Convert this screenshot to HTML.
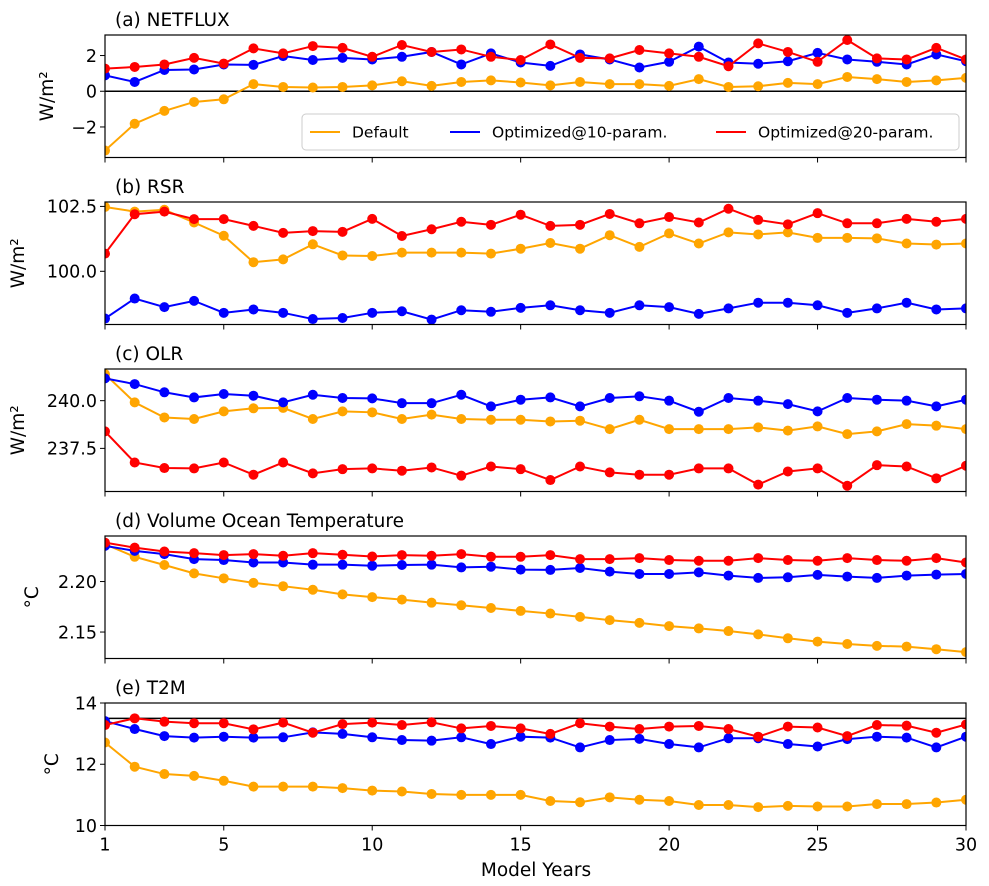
<!DOCTYPE html>
<html><head><meta charset="utf-8">
<style>
html,body{margin:0;padding:0;background:#fff;}
svg{display:block;font-family:"DejaVu Sans","Liberation Sans",sans-serif;}
</style></head>
<body>
<svg id="chart" width="989" height="886" viewBox="0 0 989 886" xmlns="http://www.w3.org/2000/svg"></svg>
<script>
const years = Array.from({length:30},(_, i)=>i+1);
const xTicks = [1,5,10,15,20,25,30];
const seriesNames = ["Default","Optimized@10-param.","Optimized@20-param."];

const netDefault = [-3.32,-1.82,-1.10,-0.60,-0.45,0.40,0.24,0.21,0.24,0.33,0.56,0.30,0.52,0.61,0.49,0.33,0.52,0.40,0.40,0.30,0.68,0.24,0.28,0.47,0.40,0.80,0.68,0.52,0.61,0.75];
const net10 = [0.89,0.52,1.19,1.22,1.50,1.48,1.97,1.75,1.87,1.78,1.93,2.20,1.50,2.12,1.61,1.42,2.06,1.78,1.33,1.65,2.50,1.61,1.54,1.68,2.15,1.78,1.65,1.50,2.06,1.68];
const net20 = [1.27,1.36,1.50,1.87,1.55,2.40,2.12,2.53,2.43,1.93,2.59,2.20,2.34,1.93,1.75,2.62,1.87,1.84,2.31,2.12,1.93,1.40,2.68,2.20,1.65,2.87,1.84,1.78,2.43,1.78];

const rsrDefault = [102.48,102.30,102.37,101.88,101.37,100.35,100.46,101.04,100.61,100.59,100.72,100.72,100.72,100.68,100.87,101.09,100.87,101.39,100.94,101.46,101.07,101.50,101.42,101.50,101.29,101.29,101.27,101.07,101.03,101.07];
const rsr10 = [98.18,98.95,98.62,98.86,98.40,98.53,98.40,98.16,98.20,98.40,98.46,98.14,98.50,98.44,98.59,98.69,98.50,98.40,98.69,98.62,98.36,98.57,98.79,98.79,98.69,98.40,98.57,98.79,98.53,98.57];
const rsr20 = [100.68,102.20,102.30,102.01,102.01,101.75,101.48,101.55,101.52,102.02,101.36,101.62,101.91,101.79,102.18,101.75,101.79,102.21,101.85,102.09,101.88,102.41,101.98,101.81,102.24,101.85,101.85,102.02,101.91,102.02];

const olrDefault = [241.39,239.91,239.12,239.04,239.44,239.60,239.62,239.04,239.44,239.39,239.04,239.27,239.04,239.00,239.00,238.91,238.95,238.51,239.00,238.51,238.51,238.51,238.60,238.43,238.65,238.25,238.39,238.77,238.69,238.51];
const olr10 = [241.17,240.87,240.44,240.17,240.35,240.26,239.91,240.31,240.14,240.12,239.87,239.87,240.31,239.70,240.05,240.17,239.70,240.14,240.23,240.00,239.42,240.14,240.00,239.82,239.44,240.14,240.05,240.00,239.70,240.05];
const olr20 = [238.39,236.76,236.47,236.45,236.76,236.12,236.76,236.19,236.41,236.45,236.33,236.50,236.07,236.55,236.41,235.84,236.55,236.24,236.12,236.12,236.45,236.45,235.60,236.29,236.45,235.54,236.62,236.55,235.93,236.59];

const votDefault = [2.2370,2.2245,2.2164,2.2081,2.2032,2.1987,2.1954,2.1919,2.1873,2.1846,2.1821,2.1791,2.1765,2.1738,2.1709,2.1683,2.1650,2.1618,2.1591,2.1559,2.1536,2.1510,2.1477,2.1438,2.1405,2.1382,2.1363,2.1356,2.1330,2.1301];
const vot10 = [2.2353,2.2304,2.2272,2.2222,2.2213,2.2189,2.2189,2.2167,2.2167,2.2157,2.2164,2.2167,2.2140,2.2147,2.2118,2.2115,2.2134,2.2098,2.2075,2.2075,2.2091,2.2059,2.2036,2.2042,2.2066,2.2049,2.2036,2.2059,2.2069,2.2075];
const vot20 = [2.2385,2.2336,2.2297,2.2281,2.2262,2.2272,2.2255,2.2281,2.2265,2.2248,2.2262,2.2255,2.2272,2.2245,2.2245,2.2262,2.2222,2.2222,2.2232,2.2213,2.2206,2.2206,2.2232,2.2213,2.2206,2.2232,2.2213,2.2206,2.2232,2.2189];

const t2mDefault = [12.71,11.92,11.68,11.62,11.46,11.27,11.27,11.27,11.22,11.14,11.11,11.03,11.00,11.00,11.00,10.80,10.76,10.92,10.84,10.80,10.67,10.67,10.60,10.64,10.62,10.62,10.70,10.70,10.75,10.84];
const t2m10 = [13.41,13.15,12.92,12.87,12.90,12.87,12.88,13.04,12.99,12.88,12.79,12.77,12.88,12.66,12.90,12.87,12.55,12.79,12.83,12.66,12.55,12.85,12.85,12.66,12.58,12.82,12.90,12.87,12.55,12.90];
const t2m20 = [13.28,13.50,13.39,13.34,13.34,13.14,13.36,13.03,13.31,13.36,13.28,13.37,13.17,13.25,13.17,12.99,13.34,13.23,13.15,13.23,13.25,13.15,12.90,13.23,13.20,12.92,13.28,13.26,13.03,13.30];

const ticksA = [-2,0,2], ticksB = [100.0,102.5], ticksC = [237.5,240.0], ticksD = [2.15,2.20], ticksE = [10,12,14];

const NS = "http://www.w3.org/2000/svg";
const svg = document.getElementById("chart");
const colors = ["#FFA500","#0000FF","#FF0000"];
const X0 = 105, X1 = 966;
function xScale(v){ return X0 + (v-1)*(X1-X0)/29; }
function mk(tag, attrs, parent){
  const e = document.createElementNS(NS, tag);
  for (const k in attrs) e.setAttribute(k, attrs[k]);
  (parent||svg).appendChild(e);
  return e;
}

const panels = [
  {key:"netflux", title:"(a) NETFLUX", ylab:"W/m²", ylx:48, dom:[-3.71,3.15], ticks:ticksA, fmt:v=>v<0?"\u2212"+Math.abs(v):String(v), data:[netDefault,net10,net20], hline:0},
  {key:"rsr", title:"(b) RSR", ylab:"W/m²", ylx:19, dom:[97.95,102.67], ticks:ticksB, fmt:v=>v.toFixed(1), data:[rsrDefault,rsr10,rsr20]},
  {key:"olr", title:"(c) OLR", ylab:"W/m²", ylx:19, dom:[235.24,241.66], ticks:ticksC, fmt:v=>v.toFixed(1), data:[olrDefault,olr10,olr20]},
  {key:"vot", title:"(d) Volume Ocean Temperature", ylab:"°C", ylx:33, dom:[2.1238,2.2451], ticks:ticksD, fmt:v=>v.toFixed(2), data:[votDefault,vot10,vot20]},
  {key:"t2m", title:"(e) T2M", ylab:"°C", ylx:53, dom:[10,14], ticks:ticksE, fmt:v=>String(v), data:[t2mDefault,t2m10,t2m20], hline:13.5}
];

panels.forEach((p, i) => {
  const top = 35 + i*167, bot = top + 122.5;
  const yScale = v => bot - (v - p.dom[0])/(p.dom[1]-p.dom[0])*(bot-top);
  const g = mk("g", {});
  
  

  const t = mk("text", {x:115, y:top-9, "font-size":18.5, fill:"#000"}, g);
  t.textContent = p.title;
  
  

  const yl = mk("text", {x:p.ylx, y:(top+bot)/2, "font-size":18.5, "text-anchor":"middle", transform:`rotate(-90 ${p.ylx} ${(top+bot)/2})`, "dominant-baseline":"middle"}, g);
  yl.textContent = p.ylab;
  
  

  p.ticks.forEach(tv => {
    const y = yScale(tv);
    const tk = mk("line", {x1:X0-5, x2:X0, y1:y, y2:y, stroke:"#000", "stroke-width":1}, g);
    
    
    const tl = mk("text", {x:X0-8, y:y+6.3, "font-size":17.5, "text-anchor":"end"}, g);
    tl.textContent = p.fmt(tv);
    
    
  });
  xTicks.forEach(xv => {
    const x = xScale(xv);
    const tk = mk("line", {x1:x, x2:x, y1:bot, y2:bot+5, stroke:"#000", "stroke-width":1}, g);
    
    
    if (i === 4) {
      const tl = mk("text", {x:x, y:bot+25, "font-size":17.5, "text-anchor":"middle"}, g);
      tl.textContent = String(xv);
      
      
    }
  });

  const cp = mk("clipPath", {id:"clip"+i}, g);
  mk("rect", {x:X0, y:top, width:X1-X0, height:bot-top}, cp);
  const plot = mk("g", {"clip-path":`url(#clip${i})`}, g);

  if (p.hline !== undefined) {
    const y = yScale(p.hline);
    const hl = mk("line", {x1:X0, x2:X1, y1:y, y2:y, stroke:"#000", "stroke-width":1.5}, plot);
    
    
  }

  p.data.forEach((arr, s) => {
    const pts = arr.map((v, k) => xScale(years[k]).toFixed(2) + "," + yScale(v).toFixed(2)).join(" ");
    const pl = mk("polyline", {points:pts, fill:"none", stroke:colors[s], "stroke-width":2}, plot);
    
    
    arr.forEach((v, k) => {
      const c = mk("circle", {cx:xScale(years[k]), cy:yScale(v), r:5, fill:colors[s]}, plot);
      
      
    });
  });

  const fr = mk("rect", {x:X0, y:top, width:X1-X0, height:bot-top, fill:"none", stroke:"#000", "stroke-width":1.2}, g);
  
  

  if (i === 0) {
    const lg = mk("g", {}, g);
    
    
    mk("rect", {x:302, y:114, width:657, height:36, rx:4, fill:"#fff", "fill-opacity":0.85, stroke:"#ccc", "stroke-width":1}, lg);
    const lx = [310, 450, 716];
    seriesNames.forEach((nm, s) => {
      const en = mk("g", {}, lg);
      
      
      mk("line", {x1:lx[s], x2:lx[s]+30, y1:132, y2:132, stroke:colors[s], "stroke-width":2}, en);
      const tx = mk("text", {x:lx[s]+42, y:137.5, "font-size":15.5}, en);
      tx.textContent = nm;
    });
  }
});

const xt = mk("text", {x:536, y:876, "font-size":18.5, "text-anchor":"middle"});
xt.textContent = "Model Years";


</script>
</body></html>
